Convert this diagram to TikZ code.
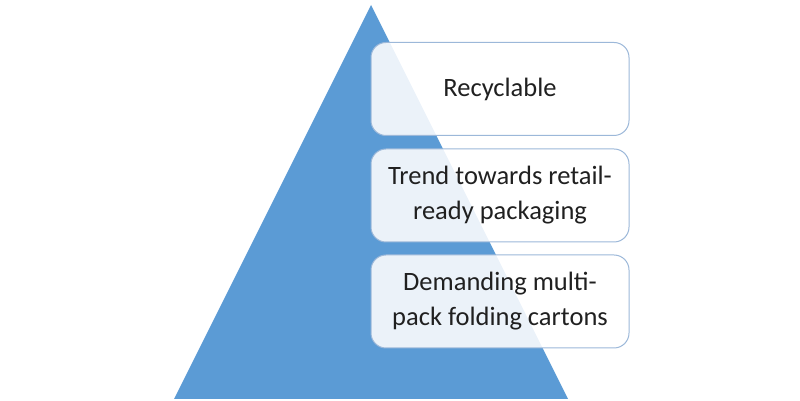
\documentclass[tikz,border=0pt]{standalone}
\usepackage{fontspec}
\setmainfont{Carlito}
\definecolor{tri}{HTML}{5B9BD5}
\definecolor{boxline}{HTML}{9CB8D9}
\definecolor{txt}{HTML}{202020}
\begin{document}
\begin{tikzpicture}[x=1pt,y=1pt,
  box/.style={draw=boxline, line width=1pt, fill=white, fill opacity=0.88, text opacity=1,
    rounded corners=15pt, minimum width=258pt, minimum height=93pt, align=center,
    text=txt, font=\fontsize{26.5}{35}\selectfont, inner sep=0pt}]
\useasboundingbox (0,0) rectangle (800,401);
\fill[tri] (174,2) coordinate (bl) -- (371,396) coordinate (apex) -- (568,2) coordinate (br) -- cycle;
\node[box] (b1) at (500,312) {Recyclable};
\node[box] (b2) at (500,205.5) {Trend towards retail-\\ready packaging};
\node[box] (b3) at (500,99.5) {Demanding multi-\\pack folding cartons};
\end{tikzpicture}
\end{document}
